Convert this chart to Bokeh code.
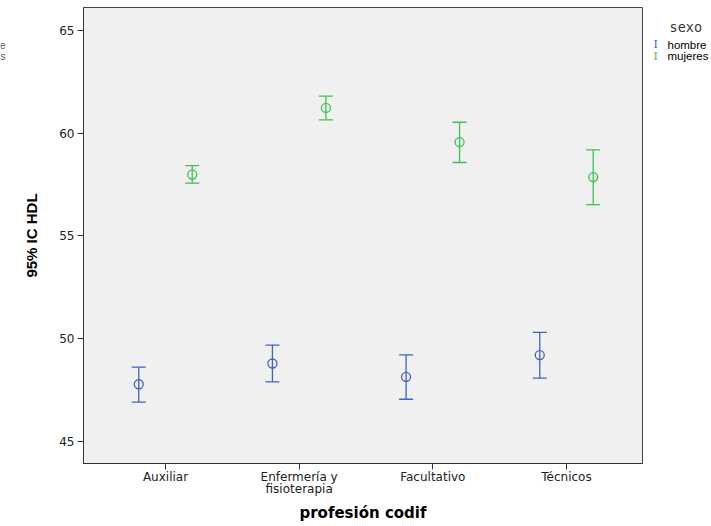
from bokeh.plotting import figure
from bokeh.layouts import row
from bokeh.models import ColumnDataSource, Whisker, TeeHead, FixedTicker, Range1d
from bokeh.core.properties import value
from bokeh.embed import file_html
from bokeh.resources import INLINE

categories = ["Auxiliar", "Enfermería y\nfisioterapia", "Facultativo", "Técnicos"]
cat_pos = [1, 2, 3, 4]

hombre_mean = [47.77, 48.78, 48.13, 49.19]
hombre_upper = [48.60, 49.68, 49.20, 50.30]
hombre_lower = [46.90, 47.89, 47.04, 48.07]

mujer_mean = [57.98, 61.23, 59.56, 57.86]
mujer_upper = [58.42, 61.80, 60.53, 59.19]
mujer_lower = [57.57, 60.65, 58.57, 56.52]

y_ticks = [45, 50, 55, 60, 65]
legend_title = "sexo"
legend_labels = ["hombre", "mujeres"]

BLUE = "#4262c0"
GREEN = "#3ec24e"
dodge = 0.2
H = 526

p = figure(width=636, height=H, output_backend="svg", toolbar_location=None,
           x_range=Range1d(0.3866, 4.5686), y_range=Range1d(43.91, 66.12),
           min_border_left=75, min_border_right=2, min_border_top=7, min_border_bottom=63)
p.background_fill_color = "#f0f0f0"
p.border_fill_color = "white"
p.outline_line_color = "#444444"
p.outline_line_width = 1
p.grid.visible = False

def add_series(means, up, lo, off, color):
    src = ColumnDataSource(dict(x=[c + off for c in cat_pos], m=means, u=up, l=lo))
    w = Whisker(source=src, base="x", upper="u", lower="l", line_color=color, line_width=1.3,
                upper_head=TeeHead(size=14, line_color=color, line_width=1.3),
                lower_head=TeeHead(size=14, line_color=color, line_width=1.3))
    p.add_layout(w)
    p.scatter("x", "m", source=src, marker="circle", size=9, fill_color=None,
              line_color=color, line_width=1.3)

add_series(hombre_mean, hombre_upper, hombre_lower, -dodge, BLUE)
add_series(mujer_mean, mujer_upper, mujer_lower, dodge, GREEN)

p.xaxis.ticker = FixedTicker(ticks=cat_pos)
p.xaxis.major_label_overrides = {c: lab for c, lab in zip(cat_pos, categories)}
p.yaxis.ticker = FixedTicker(ticks=y_ticks)
for ax in (p.xaxis, p.yaxis):
    ax.minor_tick_line_color = None
    ax.major_tick_in = 0
    ax.major_tick_out = 6
    ax.axis_line_color = "#333333"
    ax.major_tick_line_color = "#333333"
    ax.major_label_text_font = "DejaVu Sans"
    ax.major_label_text_color = "#222222"
    ax.axis_label_text_font_style = "bold"
    ax.axis_label_text_color = "black"

p.xaxis.major_label_text_font_size = "12px"
p.yaxis.major_label_text_font_size = "12px"

p.xaxis.axis_label = "profesión codif"
p.xaxis.axis_label_text_font = "DejaVu Sans"
p.xaxis.axis_label_text_font_size = "15px"
p.xaxis.axis_label_standoff = 5
p.xaxis.major_label_standoff = 0
p.xaxis.major_label_text_line_height = 0.9

p.yaxis.axis_label = "95% IC HDL"
p.yaxis.axis_label_text_font = "Liberation Sans"
p.yaxis.axis_label_text_font_size = "15px"
p.yaxis.axis_label_standoff = 16
p.yaxis.major_label_standoff = 3

# legend panel on the right (pixel coordinates, y from top)
lg = figure(width=67, height=H, output_backend="svg", toolbar_location=None,
            x_range=Range1d(0, 67), y_range=Range1d(H, 0),
            x_axis_location=None, y_axis_location=None,
            min_border_left=0, min_border_right=0, min_border_top=0, min_border_bottom=0)
lg.outline_line_color = None
lg.grid.visible = False
lg.background_fill_color = "white"
lg.text(x=[25], y=[23], text=[legend_title], text_font=value("DejaVu Sans Mono"),
        text_font_size="13.5px", text_color="#333333", text_baseline="middle")
lg.text(x=[9, 9], y=[43, 56], text=["I", "I"], text_font=value("DejaVu Serif"),
        text_font_size="11px", text_color=[BLUE, GREEN], text_baseline="middle")
lg.text(x=[23, 23], y=[43, 56], text=legend_labels, text_font=value("Liberation Sans"),
        text_font_size="11.5px", text_color="black", text_baseline="middle")

# clipped fragments at the far left edge
lf = figure(width=8, height=H, output_backend="svg", toolbar_location=None,
            x_range=Range1d(0, 8), y_range=Range1d(H, 0),
            x_axis_location=None, y_axis_location=None,
            min_border_left=0, min_border_right=0, min_border_top=0, min_border_bottom=0)
lf.outline_line_color = None
lf.grid.visible = False
lf.text(x=[5, 5], y=[43, 56], text=["e", "s"], text_font=value("Liberation Sans"),
        text_font_size="10px", text_color="#555555", text_align="right", text_baseline="middle")

layout = row(lf, p, lg, spacing=0)
open("out.html", "w").write(file_html(layout, INLINE))
